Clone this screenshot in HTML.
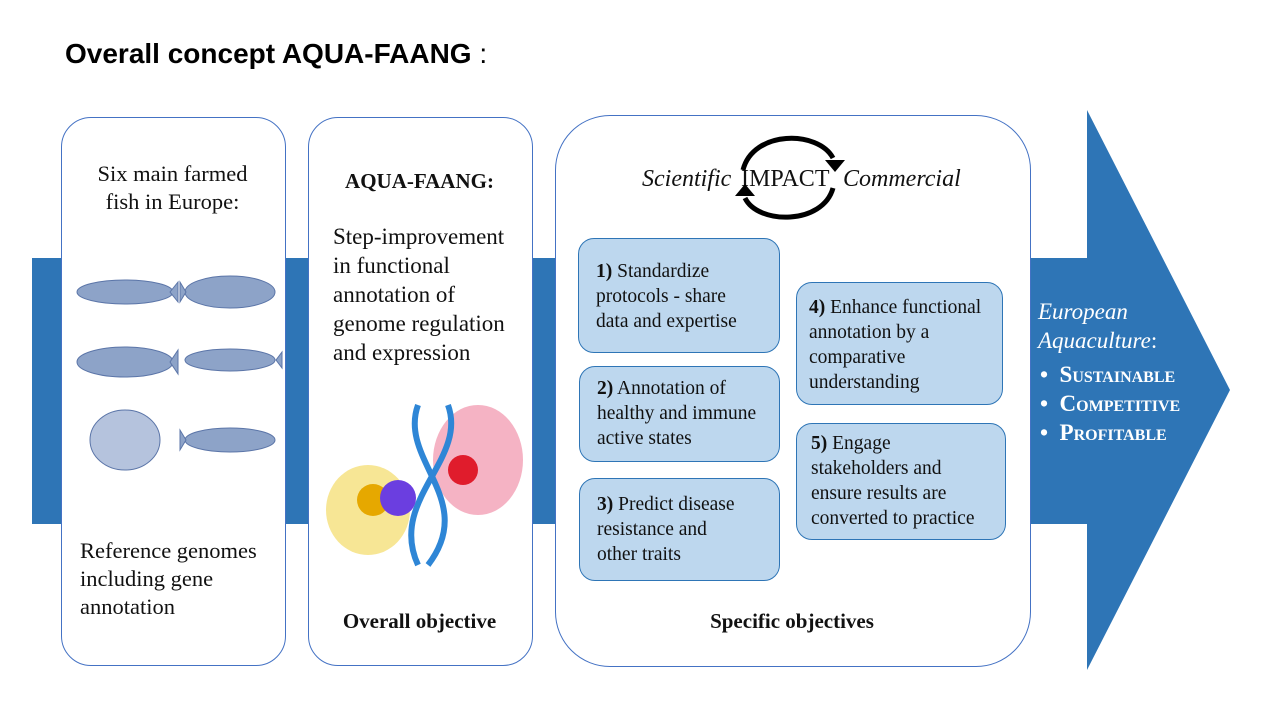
<!DOCTYPE html>
<html><head><meta charset="utf-8"><style>
body{margin:0;width:1280px;height:720px;background:#fff;position:relative;overflow:hidden;font-family:"Liberation Serif",serif}
.a{position:absolute}
.box{position:absolute;background:#fff;border:1px solid #4472c4}
.sb{position:absolute;background:#bdd7ee;border:1px solid #2e75b6;border-radius:16px;font-size:19.5px;line-height:25px;color:#111;padding:0 0 0 17px;box-sizing:border-box;white-space:nowrap}
.t{position:absolute;font-size:22.5px;line-height:28px;color:#111;white-space:nowrap}
</style></head><body>
<div class="a" style="left:65px;top:38px;font:bold 28px 'Liberation Sans',sans-serif;color:#000">Overall concept AQUA-FAANG<span style="font-weight:normal"> :</span></div>
<svg class="a" style="left:0;top:0" width="1280" height="720"><polygon points="32,258 1087,258 1087,110 1230,390 1087,670 1087,524 32,524" fill="#2e75b6"/></svg>
<div class="box" style="left:61px;top:117px;width:223px;height:547px;border-radius:30px"></div>
<div class="box" style="left:308px;top:117px;width:223px;height:547px;border-radius:30px"></div>
<div class="box" style="left:555px;top:115px;width:474px;height:550px;border-radius:55px"></div>
<div class="t" style="left:61px;width:223px;top:160px;text-align:center">Six main farmed<br>fish in Europe:</div>
<svg class="a" style="left:70px;top:262px" width="215" height="220">
<g fill="#8da3c8" stroke="#5b75a8">
<ellipse cx="55" cy="30" rx="48" ry="12"/><polygon points="100,30 108,20 108,40"/>
<ellipse cx="160" cy="30" rx="45" ry="16"/><polygon points="116,30 110,20 110,40"/>
<ellipse cx="55" cy="100" rx="48" ry="15"/><polygon points="100,100 108,88 108,112"/>
<ellipse cx="160" cy="98" rx="45" ry="11"/><polygon points="206,98 212,90 212,106"/>
<ellipse cx="55" cy="178" rx="35" ry="30" fill="#b5c3dd"/>
<ellipse cx="160" cy="178" rx="45" ry="12"/><polygon points="116,178 110,168 110,188"/>
</g></svg>
<div class="t" style="left:80px;top:537px">Reference genomes<br>including gene<br>annotation</div>
<div class="t" style="left:308px;width:223px;top:167px;text-align:center;font-weight:bold;font-size:21px">AQUA-FAANG:</div>
<div class="t" style="left:333px;top:222px;line-height:29px;font-size:23px">Step-improvement<br>in functional<br>annotation of<br>genome regulation<br>and expression</div>
<svg class="a" style="left:318px;top:400px" width="210" height="170">
<ellipse cx="50" cy="110" rx="42" ry="45" fill="#f5e07a" opacity=".8"/>
<ellipse cx="160" cy="60" rx="45" ry="55" fill="#f3a0b5" opacity=".8"/>
<path d="M100 5 C80 60 160 100 110 165" stroke="#2e86d6" stroke-width="6" fill="none"/>
<path d="M130 5 C150 60 70 100 100 165" stroke="#2e86d6" stroke-width="6" fill="none"/>
<circle cx="55" cy="100" r="16" fill="#e6a800"/><circle cx="80" cy="98" r="18" fill="#6b3ee0"/>
<circle cx="145" cy="70" r="15" fill="#e01c2c"/>
</svg>
<div class="t" style="left:308px;width:223px;top:607px;text-align:center;font-weight:bold;font-size:21px">Overall objective</div>
<div class="t" style="left:642px;top:165px;font-style:italic;font-size:24px">Scientific</div>
<div class="t" style="left:741px;top:165px;font-size:24px">IMPACT</div>
<div class="t" style="left:843px;top:165px;font-style:italic;font-size:24px">Commercial</div>
<svg class="a" style="left:733px;top:130px" width="115" height="95">
<path d="M10 40 C20 0 85 0 100 28" stroke="#000" stroke-width="5" fill="none"/><polygon points="92,30 112,30 102,42"/>
<path d="M100 58 C90 95 25 95 12 68" stroke="#000" stroke-width="5" fill="none"/><polygon points="2,66 22,66 12,54"/>
</svg>
<div class="sb" style="left:578px;top:238px;width:202px;height:115px;padding-top:20px"><b>1)</b> Standardize<br>protocols - share<br>data and expertise</div>
<div class="sb" style="left:579px;top:366px;width:201px;height:96px;padding-top:9px"><b>2)</b> Annotation of<br>healthy and immune<br>active states</div>
<div class="sb" style="left:579px;top:478px;width:201px;height:103px;padding-top:13px"><b>3)</b> Predict disease<br>resistance and<br>other traits</div>
<div class="sb" style="left:796px;top:282px;width:207px;height:123px;padding:12px 0 0 12px"><b>4)</b> Enhance functional<br>annotation by a<br>comparative<br>understanding</div>
<div class="sb" style="left:796px;top:423px;width:210px;height:117px;padding:7px 0 0 14px"><b>5)</b> Engage<br>stakeholders and<br>ensure results are<br>converted to practice</div>
<div class="t" style="left:555px;width:474px;top:607px;text-align:center;font-weight:bold;font-size:21px">Specific objectives</div>
<div class="t" style="left:1038px;top:297px;color:#fff;font-style:italic;font-size:23px;line-height:29px">European<br>Aquaculture<span style="font-style:normal">:</span></div>
<div class="t" style="left:1040px;top:360px;color:#fff;font-weight:bold;font-size:23px;line-height:29px;font-variant:small-caps">•&nbsp; Sustainable<br>•&nbsp; Competitive<br>•&nbsp; Profitable</div>
</body></html>
